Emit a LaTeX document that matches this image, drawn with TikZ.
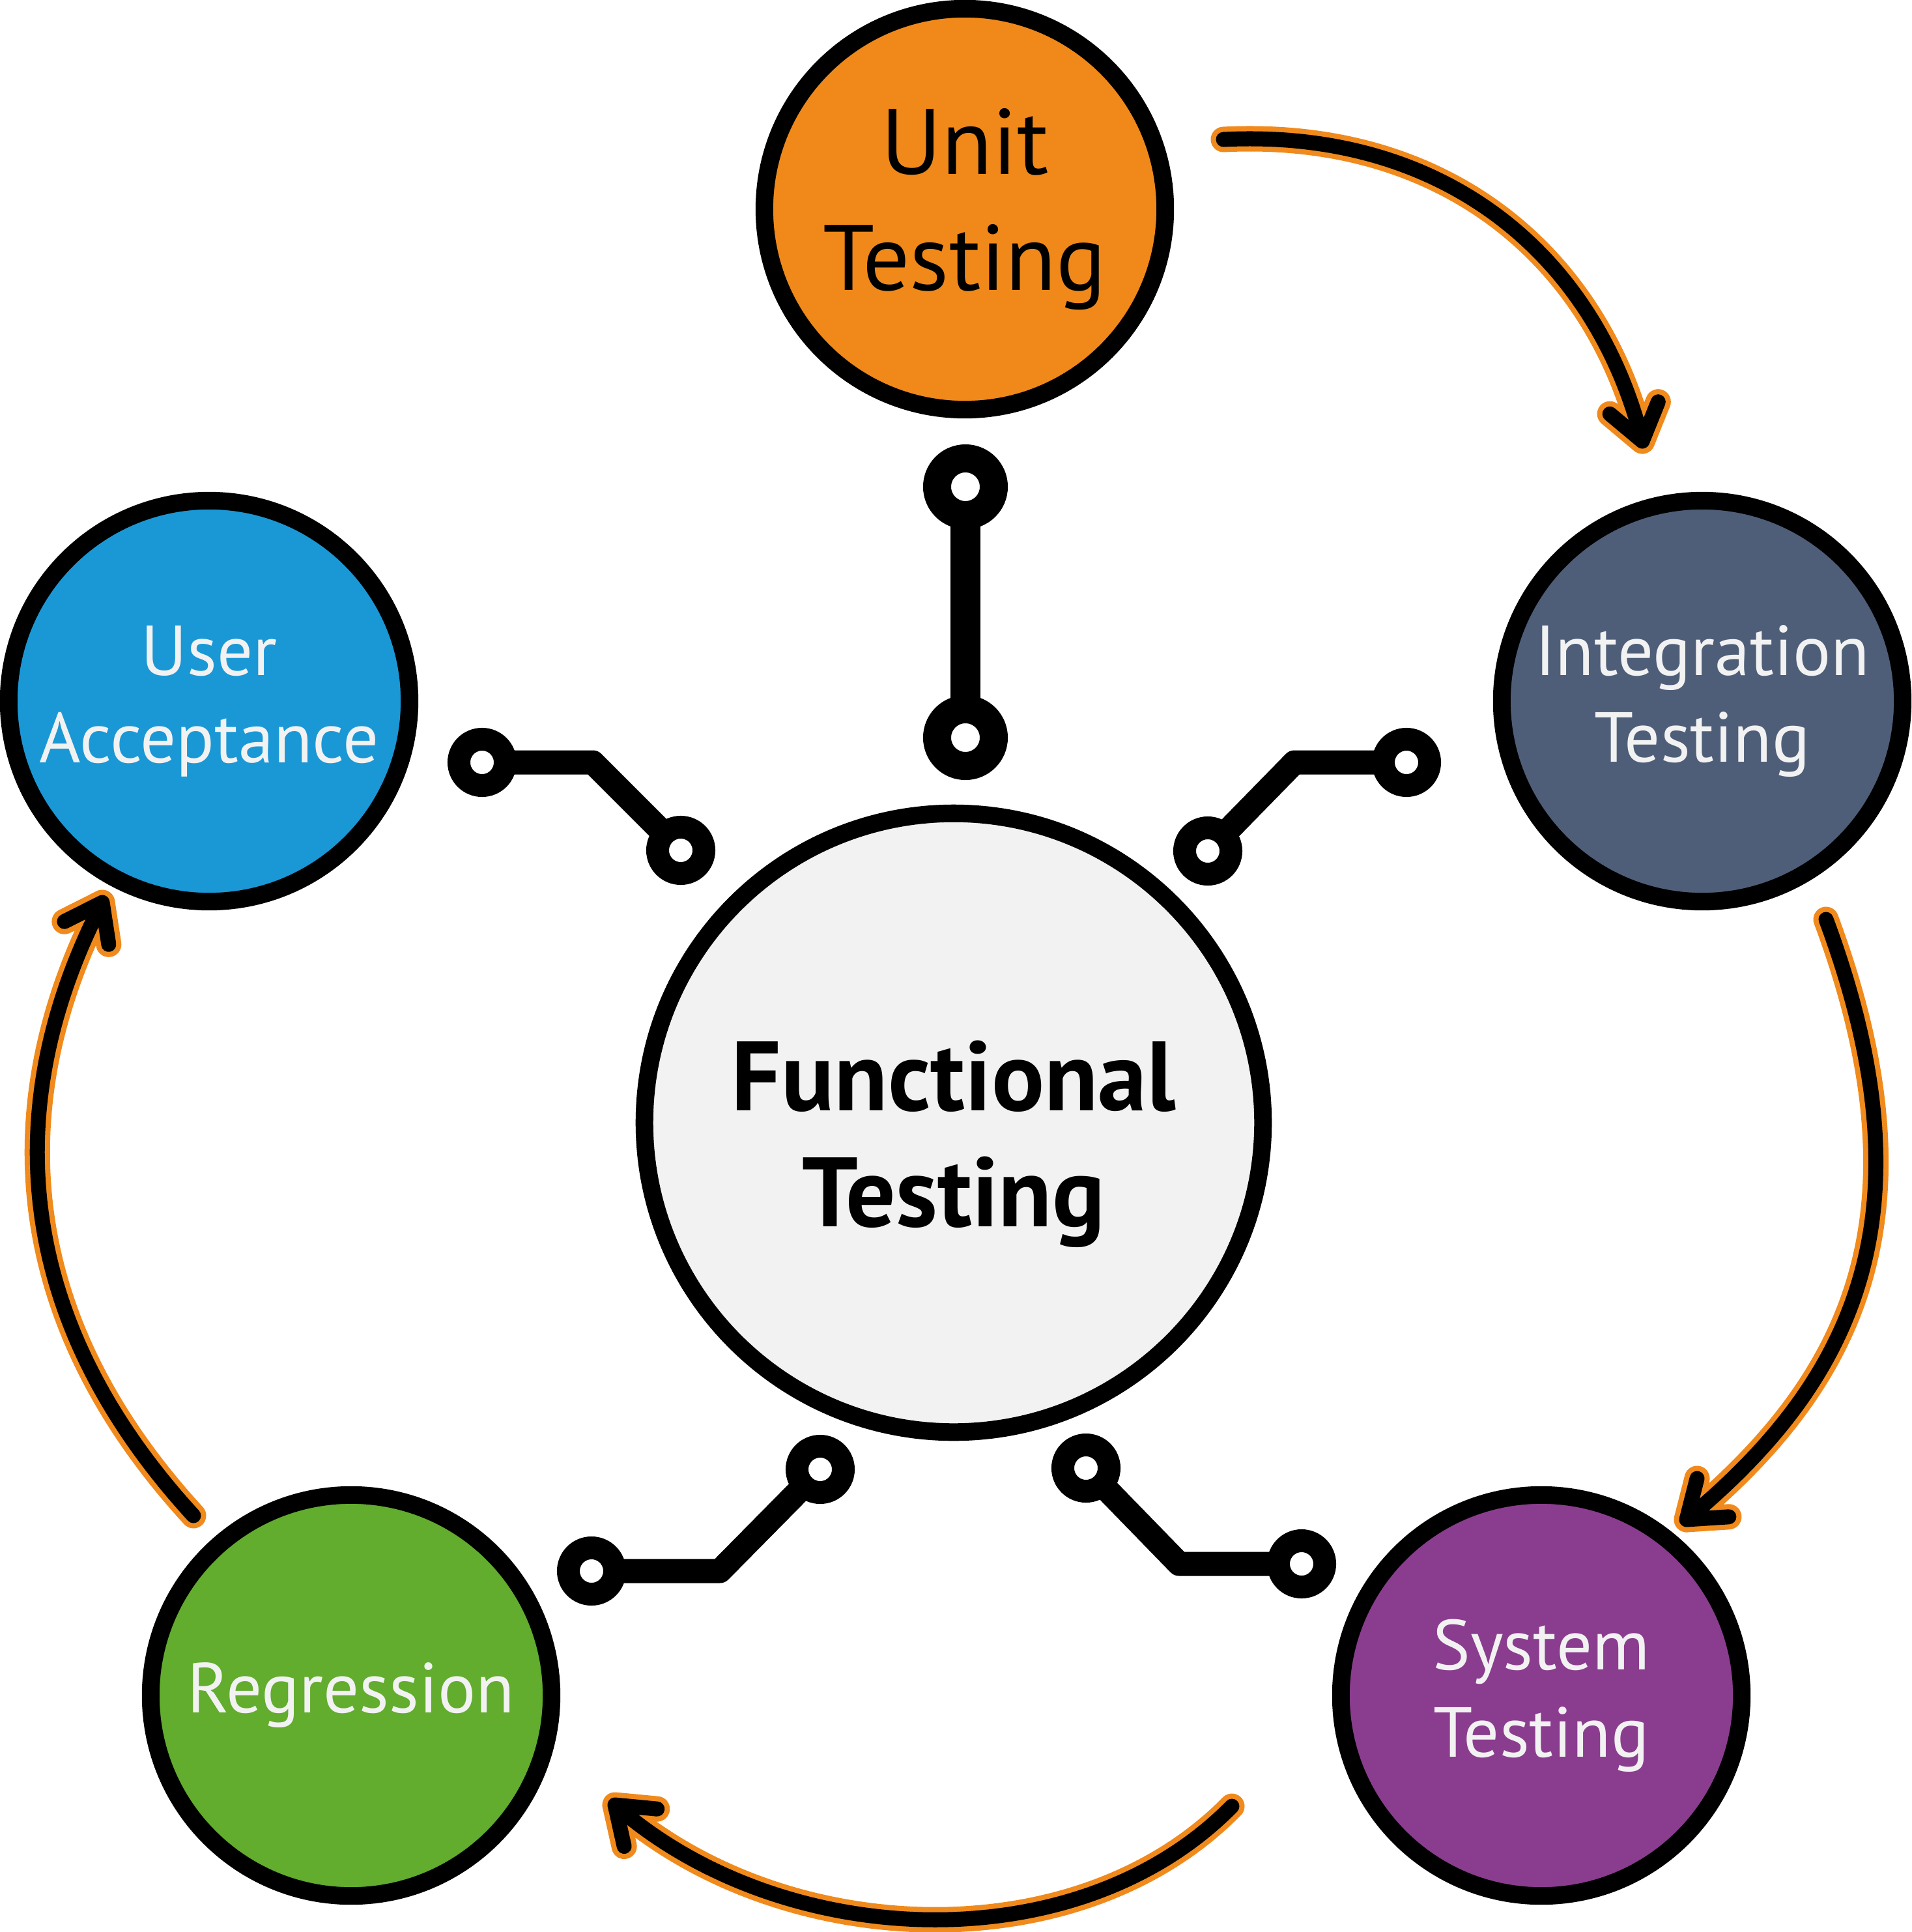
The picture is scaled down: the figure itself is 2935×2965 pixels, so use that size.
\documentclass[tikz,border=0pt]{standalone}
\usepackage{fontspec}
\setmainfont{PT Sans}
\usetikzlibrary{calc}

\definecolor{unitOrange}{HTML}{F0891A}
\definecolor{integSlate}{HTML}{4F5E78}
\definecolor{userBlue}{HTML}{1A98D6}
\definecolor{regrGreen}{HTML}{62AC2E}
\definecolor{systPurple}{HTML}{8A3D8E}
\definecolor{hubGray}{HTML}{F2F2F2}
\definecolor{paleText}{HTML}{F2F2F2}
\definecolor{flowOrange}{HTML}{F08A1C}
\def\px{0.28453pt}

\begin{document}
\begin{tikzpicture}[x = 0.01cm, y = -0.01cm]
	\tikzstyle{stageStyle} = [shape = circle, draw, line width = 27*\px, minimum size = 615*\px, inner sep = 0pt, align = center, text = paleText, font = \fontsize{30.9}{38}\selectfont]
	\tikzstyle{hubStyle} = [stageStyle, minimum size = 949*\px, fill = hubGray]
	\tikzstyle{hubText} = [align = center, inner sep = 0pt, font = \fontsize{43}{50.6}\selectfont\bfseries]
	\tikzstyle{pinStyle} = [shape = circle, draw, fill = white, line width = 35*\px, minimum size = 71*\px, inner sep = 0pt]
	\tikzstyle{bigPinStyle} = [pinStyle, line width = 43*\px, minimum size = 87*\px]
	\tikzstyle{traceStyle} = [line width = 37*\px, line join = round, shorten <= -12*\px, shorten >= -12*\px]
	\tikzstyle{flowStyle} = [draw = flowOrange, line width = 8*\px, double = black, double distance = 23*\px, line cap = round, line join = round]
	\useasboundingbox (0, 0) rectangle (2935, 2965);
	% stages
	\node[stageStyle, fill = unitOrange, text = black, font = \fontsize{40.6}{50.5}\selectfont] (v0) at (1481, 321) {Unit\\Testing};
	\node[stageStyle, fill = integSlate] (v1) at (2613, 1076) {Integration\\Testing};
	\node[stageStyle, fill = systPurple] (v2) at (2366, 2602) {System\\Testing};
	\node[stageStyle, fill = regrGreen] (v3) at (539, 2602) {Regression};
	\node[stageStyle, fill = userBlue] (v4) at (321, 1076) {User\\Acceptance};
	\node[hubStyle] (hub) at (1464, 1723) {};
	\node[hubText] (hubLabel) at (1464, 1756) {Functional\\Testing};
	% pins
	\node[bigPinStyle] (p0) at (1482, 747) {};
	\node[bigPinStyle] (p1) at (1482, 1132) {};
	\node[pinStyle] (p2) at (1854, 1306) {};
	\node[pinStyle] (p3) at (2159, 1170) {};
	\node[pinStyle] (p4) at (1667, 2253) {};
	\node[pinStyle] (p5) at (1998, 2400) {};
	\node[pinStyle] (p6) at (1259, 2255) {};
	\node[pinStyle] (p7) at (908, 2411) {};
	\node[pinStyle] (p8) at (1045, 1305) {};
	\node[pinStyle] (p9) at (740, 1170) {};
	\coordinate (b1) at (1987, 1170);
	\coordinate (b2) at (1810, 2400);
	\coordinate (b3) at (1105, 2411);
	\coordinate (b4) at (910, 1170);
	\draw[traceStyle, line width = 46*\px] (p0) -- (p1);
	\draw[traceStyle] (p2) -- (b1) -- (p3);
	\draw[traceStyle] (p4) -- (b2) -- (p5);
	\draw[traceStyle] (p6) -- (b3) -- (p7);
	\draw[traceStyle] (p8) -- (b4) -- (p9);
	% cycle arrows
	\coordinate (a0) at (1878, 214);
	\coordinate (a1) at (2521, 677);
	\coordinate (k1) at (2450, 393);
	\coordinate (a2) at (2803, 1411);
	\coordinate (a3) at (2589, 2332);
	\coordinate (k2) at (2837, 2126);
	\coordinate (a4) at (1891, 2772);
	\coordinate (a5) at (944, 2770);
	\coordinate (k3) at (1199, 2995);
	\coordinate (a6) at (297, 2326);
	\coordinate (a7) at (157, 1385);
	\coordinate (k4) at (-8, 1705);
	\foreach \s/\c/\e/\k in {a0/{340, -17}/a1/k1, a2/{172, 462}/a3/k2, a4/{-238, 242}/a5/k3, a6/{-270, -294}/a7/k4}
	{
		\draw[flowStyle] (\s) .. controls +(\c) and (\k) .. (\e) -- ($(\e)!18.5pt!36:(\k)$) (\e) -- ($(\e)!18.5pt!-36:(\k)$);
	}
\end{tikzpicture}
\end{document}
